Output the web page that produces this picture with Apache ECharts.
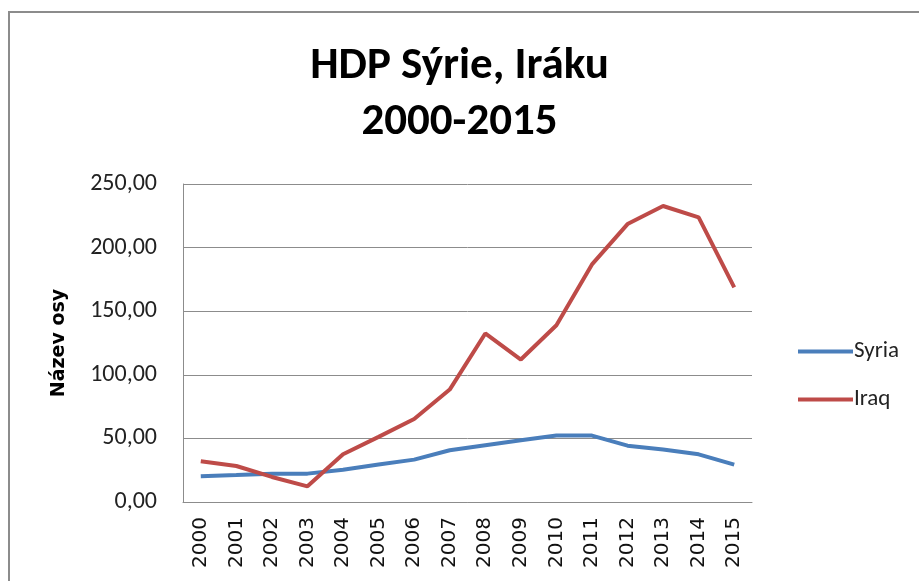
<!DOCTYPE html>
<html>
<head>
<meta charset="utf-8">
<script src="https://cdn.jsdelivr.net/npm/echarts@6/dist/echarts.min.js"></script>
<style>
  html, body { margin: 0; padding: 0; background: #fff; }
  #graf { width: 919px; height: 581px; }
</style>
</head>
<body>
<div id="graf"></div>
<script>
const roky = ['2000','2001','2002','2003','2004','2005','2006','2007','2008','2009','2010','2011','2012','2013','2014','2015'];
const syria = [20.2, 21.2, 22.3, 22.3, 25.4, 29.4, 33.3, 40.7, 44.6, 48.5, 52.2, 52.2, 44.3, 41.2, 37.5, 29.4];
const iraq = [32.0, 28.3, 19.7, 12.3, 37.5, 51.2, 65.3, 88.4, 132.5, 112.0, 139.0, 186.8, 218.5, 232.7, 223.8, 168.7];
const nazvy = ['Syria', 'Iraq'];
const barvy = ['#4a7ebb', '#be4b48'];

const pismo = 'Carlito, Lato, sans-serif';
let graf = echarts.init(document.getElementById('graf'));
graf.setOption({
  animation: false,
  graphic: [{
    type: 'rect',
    shape: { x: 9, y: 12, width: 930, height: 600 },
    style: { fill: 'none', stroke: '#8c8c8c', lineWidth: 2 },
    silent: true
  }],
  title: {
    text: 'HDP Sýrie, Iráku\n2000-2015',
    left: 'center',
    top: 34,
    textStyle: { fontFamily: pismo, fontSize: 45, fontWeight: 'bold', color: '#000', lineHeight: 56 }
  },
  legend: {
    orient: 'vertical',
    left: 793,
    top: 335,
    itemWidth: 55,
    itemHeight: 4,
    itemGap: 25,
    icon: 'rect',
    textStyle: { fontFamily: pismo, fontSize: 23, color: '#222', padding: [0, 0, 0, -4] },
    data: nazvy
  },
  grid: { left: 183, right: 167, top: 184, bottom: 79, containLabel: false },
  xAxis: {
    type: 'category',
    data: roky,
    boundaryGap: true,
    axisLine: { lineStyle: { color: '#8c8c8c', width: 1 } },
    axisTick: { show: false },
    axisLabel: { rotate: 90, margin: 15, fontFamily: 'DejaVu Sans', fontSize: 20, color: '#111', interval: 0 }
  },
  yAxis: {
    type: 'value',
    min: 0,
    max: 250,
    interval: 50,
    name: 'Název osy',
    nameLocation: 'middle',
    nameGap: 114,
    nameTextStyle: { fontFamily: 'DejaVu Sans', fontSize: 19, fontWeight: 'bold', color: '#000' },
    axisLine: { show: true, lineStyle: { color: '#8c8c8c', width: 1 } },
    axisTick: { show: false },
    splitLine: { lineStyle: { color: '#8c8c8c', width: 1 } },
    axisLabel: {
      margin: 26,
      fontFamily: pismo,
      fontSize: 24,
      color: '#222',
      formatter: v => v.toFixed(2).replace('.', ',')
    }
  },
  series: [
    { name: nazvy[0], type: 'line', data: syria, symbol: 'none', lineStyle: { width: 4, color: barvy[0] }, itemStyle: { color: barvy[0] } },
    { name: nazvy[1], type: 'line', data: iraq, symbol: 'none', lineStyle: { width: 4, color: barvy[1] }, itemStyle: { color: barvy[1] } }
  ]
});
</script>
</body>
</html>
